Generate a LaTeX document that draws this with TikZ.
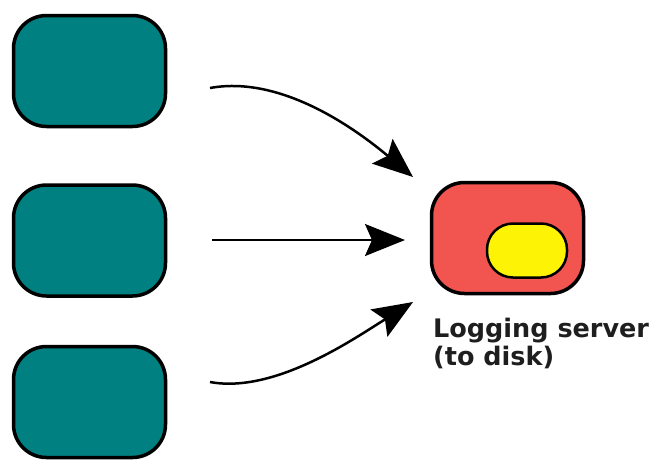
\documentclass[tikz,border=0pt]{standalone}
\usepackage{fontspec}
\newfontfamily\labelfont{DejaVu Sans}
\usetikzlibrary{arrows.meta}
\definecolor{clientteal}{RGB}{0,128,128}
\definecolor{serverred}{RGB}{242,84,80}
\definecolor{diskyellow}{RGB}{252,244,4}
\definecolor{captiongray}{RGB}{30,30,30}
\tikzset{
  client/.style={draw=black, line width=3.5pt, fill=clientteal, rounded corners=33pt,
    minimum width=152pt, minimum height=111pt, inner sep=0pt},
  server/.style={draw=black, line width=3.5pt, fill=serverred, rounded corners=33pt,
    minimum width=152pt, minimum height=111pt, inner sep=0pt},
  disk/.style={draw=black, line width=2.5pt, fill=diskyellow, rounded corners=26pt,
    minimum width=80pt, minimum height=54pt, inner sep=0pt},
  feed/.style={line width=2.5pt, -{Stealth[length=40pt, width=32pt, inset=7pt]}},
  caption/.style={anchor=base west, inner sep=0pt, text=captiongray,
    font=\labelfont\bfseries\fontsize{25.5pt}{28pt}\selectfont}
}
\begin{document}
\begin{tikzpicture}[x=1pt, y=-1pt]
  \useasboundingbox (0,0) rectangle (655,459);
  % clients
  \node[client] (c1) at (89.5,71) {};
  \node[client] (c2) at (89.5,240.5) {};
  \node[client] (c3) at (89.5,402) {};
  % logging server with its disk
  \node[server] (srv) at (507.5,238) {};
  \node[disk] (dsk) at (527,250.5) {};
  \node[caption] (cap1) at (433,337) {Logging server};
  \node[caption] (cap2) at (433,365) {(to disk)};
  % arrow end points
  \coordinate (s1) at (210,88);
  \coordinate (e1) at (413,177);
  \coordinate (s2) at (212,240);
  \coordinate (e2) at (405,240);
  \coordinate (s3) at (210,382);
  \coordinate (e3) at (413,302);
  \draw[feed] (s1) .. controls (275,76) and (345,120) .. (e1);
  \draw[feed] (s2) -- (e2);
  \draw[feed] (s3) .. controls (275,394) and (355,338) .. (e3);
\end{tikzpicture}
\end{document}
